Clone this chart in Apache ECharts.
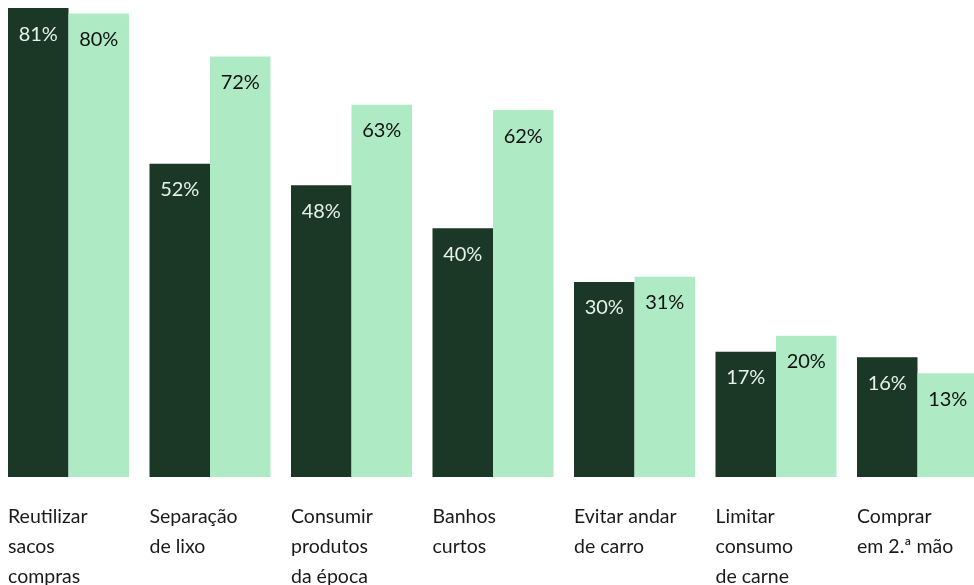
<!DOCTYPE html>
<html><head><meta charset="utf-8">
<script src="https://cdn.jsdelivr.net/npm/echarts@6/dist/echarts.min.js"></script>
<style>html,body{margin:0;padding:0;background:#fff}#c{width:974px;height:585px}</style>
</head><body><div id="c"></div>
<script>
var categories = ['Reutilizar\nsacos\ncompras','Separação\nde lixo','Consumir\nprodutos\nda época','Banhos\ncurtos','Evitar andar\nde carro','Limitar\nconsumo\nde carne','Comprar\nem 2.ª mão'];
var seriesDark = [81,52,48,40,30,17,16];
var seriesLight = [80,72,63,62,31,20,13];
var axisMin = -6.3, axisMax = 82.5;
var DARK = '#1b3726', LIGHT = '#aeebc5';
var FONT = 'Lato';
var chart = echarts.init(document.getElementById('c'));
function lbl(color){return {show:true,position:'insideTop',distance:16,color:color,fontFamily:FONT,fontSize:20,formatter:'{c}%'};}
chart.setOption({
  animation:false,
  grid:{left:-2.25,top:0,width:990.5,bottom:108,containLabel:false,outerBoundsMode:'none'},
  xAxis:{type:'category',data:categories,axisLine:{show:false},axisTick:{show:false},
    axisLabel:{interval:0,margin:25,align:'center',verticalAlign:'top',hideOverlap:false,
      formatter:function(v){return v.split('\n').map(function(s){return '{a|'+s+'}';}).join('\n');},
      rich:{a:{width:121,align:'left',fontFamily:FONT,fontSize:19.5,lineHeight:30,color:'#1a1a1a'}}}},
  yAxis:{type:'value',min:axisMin,max:axisMax,startValue:axisMin,show:false,splitLine:{show:false}},
  series:[
    {type:'bar',data:seriesDark,barWidth:60.5,barGap:0,itemStyle:{color:DARK},label:lbl('#e6f2ea')},
    {type:'bar',data:seriesLight,barWidth:60.5,barGap:0,itemStyle:{color:LIGHT},label:lbl('#111111')}
  ]
});
</script></body></html>
